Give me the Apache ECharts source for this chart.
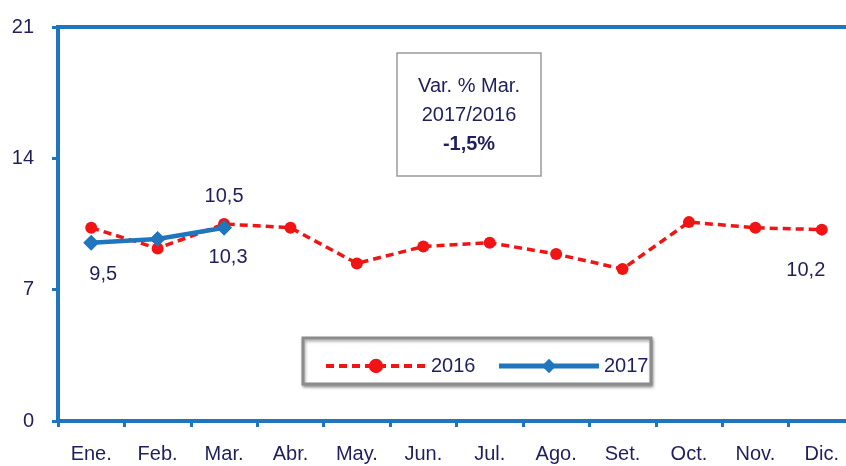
<!DOCTYPE html>
<html>
<head>
<meta charset="utf-8">
<script src="https://cdn.jsdelivr.net/npm/echarts@6/dist/echarts.min.js"></script>
<style>
  html, body { margin: 0; padding: 0; background: #ffffff; }
  #main { width: 846px; height: 466px; }
</style>
</head>
<body>
<div id="main"></div>
<script>
var myChart = echarts.init(document.getElementById('main'));

// datos
var months = ['Ene.', 'Feb.', 'Mar.', 'Abr.', 'May.', 'Jun.', 'Jul.', 'Ago.', 'Set.', 'Oct.', 'Nov.', 'Dic.'];
var values2016 = [10.3, 9.2, 10.5, 10.3, 8.4, 9.3, 9.5, 8.9, 8.1, 10.6, 10.3, 10.2];
var values2017 = [9.5, 9.7, 10.3];
var yTicks = [0, 7, 14, 21];
var noteLines = ['Var. % Mar.', '2017/2016', '-1,5%'];

var blue = '#1f76bd';
var red = '#f01414';
var ink = '#1e1f5c';
var font = '"Liberation Sans", Arial, sans-serif';

function comma(p) { return String(p.value).replace('.', ','); }

// etiquetas solo en algunos puntos
var data2016 = values2016.map(function (v, i) {
  if (i === 2) return { value: v, label: { show: true, position: 'top', distance: 12 } };
  if (i === 11) return { value: v, label: { show: true, position: 'bottom', distance: 25, offset: [-16, 0] } };
  return v;
});
var data2017 = values2017.map(function (v, i) {
  if (i === 0) return { value: v, label: { show: true, position: 'bottom', distance: 14, offset: [12, 0] } };
  if (i === 2) return { value: v, label: { show: true, position: 'bottom', distance: 12, offset: [4, 0] } };
  return v;
});

var option = {
  backgroundColor: '#ffffff',
  textStyle: { fontFamily: font },
  grid: {
    left: 58, width: 797, top: 27, bottom: 45,
    outerBoundsMode: 'none',
    containLabel: false,
    show: true, borderColor: blue, borderWidth: 4
  },
  xAxis: {
    type: 'category',
    data: months,
    boundaryGap: true,
    axisLine: { lineStyle: { color: blue, width: 4 } },
    axisTick: { show: true, length: 6, lineStyle: { color: blue, width: 3 } },
    axisLabel: { color: ink, fontSize: 20, margin: 23, fontFamily: font }
  },
  yAxis: {
    type: 'value',
    min: yTicks[0],
    max: yTicks[yTicks.length - 1],
    interval: 7,
    splitLine: { show: false },
    axisLine: { show: true, lineStyle: { color: blue, width: 4 } },
    axisTick: { show: true, length: 6, lineStyle: { color: blue, width: 3 } },
    axisLabel: { color: ink, fontSize: 20, margin: 24, fontFamily: font }
  },
  legend: {
    data: [
      { name: '2016', lineStyle: { width: 4 } },
      { name: '2017', lineStyle: { width: 5 } }
    ],
    left: 319,
    top: 351,
    itemWidth: 100,
    itemHeight: 18,
    itemGap: 21,
    textStyle: { color: ink, fontSize: 20, fontFamily: font }
  },
  graphic: [
    {
      type: 'rect',
      shape: { x: 303, y: 338, width: 348, height: 46 },
      style: { fill: '#ffffff', stroke: '#8c8c8c', lineWidth: 3, shadowBlur: 3, shadowColor: 'rgba(0,0,0,0.35)', shadowOffsetX: 1, shadowOffsetY: 2 },
      z: 0
    },
    {
      type: 'rect',
      shape: { x: 397, y: 53, width: 144, height: 123 },
      style: { fill: '#ffffff', stroke: '#9a9a9a', lineWidth: 1.5 },
      z: 0
    },
    {
      type: 'text',
      x: 469, y: 86,
      style: { text: noteLines[0], fill: ink, font: '20px ' + font, align: 'center', verticalAlign: 'middle' }
    },
    {
      type: 'text',
      x: 469, y: 115,
      style: { text: noteLines[1], fill: ink, font: '20px ' + font, align: 'center', verticalAlign: 'middle' }
    },
    {
      type: 'text',
      x: 469, y: 144,
      style: { text: noteLines[2], fill: ink, font: 'bold 20px ' + font, align: 'center', verticalAlign: 'middle' }
    }
  ],
  series: [
    {
      name: '2016',
      type: 'line',
      data: data2016,
      symbol: 'circle',
      symbolSize: 12,
      itemStyle: { color: red },
      lineStyle: { color: red, width: 3.5, type: [8, 5] },
      label: { show: false, color: ink, fontSize: 20, fontFamily: font, formatter: comma },
      z: 2
    },
    {
      name: '2017',
      type: 'line',
      data: data2017,
      symbol: 'diamond',
      symbolSize: 16,
      itemStyle: { color: blue },
      lineStyle: { color: blue, width: 4.5 },
      label: { show: false, color: ink, fontSize: 20, fontFamily: font, formatter: comma },
      z: 3
    }
  ]
};
myChart.setOption(option);
</script>
</body>
</html>
